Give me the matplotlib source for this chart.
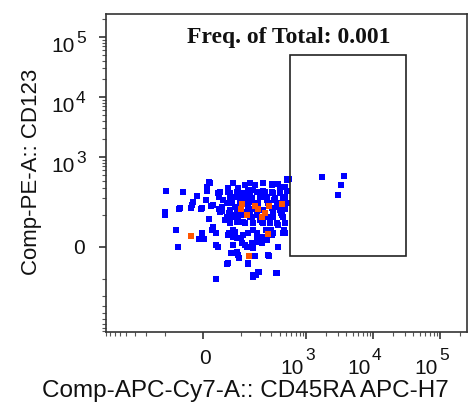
import matplotlib
matplotlib.use('Agg')
import matplotlib.pyplot as plt
import matplotlib.transforms as mtransforms
from matplotlib.patches import Rectangle
import numpy as np

# events (CD45RA APC-H7 vs CD123), fluorescence units
blue_x = [-95, -100, -100, -43, -54, -51, -62, -56, -20, -23, -25, -12, -8, 2, -2, -4, -2, 6,
          12, 14, 8, 8, 12, 16, 20, 20, 18, 27, 31, 27, 31, 34, 36, 34, 36, 27, 41, 41, 43, 48,
          53, 53, 65, 71, 56, 62, 59, 68, 59, 65, 62, 71, 59, 71, 77, 84, 84, 91, 88, 84, 77, 84,
          88, 112, 103, 107, 99, 116, 126, 112, 130, 126, 140, 130, 140, 151, 151, 157, 181, 188,
          157, 181, 151, 157, 181, 157, 175, 195, 209, 224, 202, 217, 224, 259, 250, 224, 277,
          308, 319, 330, 367, 297, 319, 319, 367, 354, 380, 407, 422, 451, 468, 484, 520, 520,
          556, 484, 451,
          88, 116, 140, 168, 224, 308, 380, 484, 520, 56, 84, 103, 130, 181, 241, 308, 407,
          62, 77, 107, 151, 202, 259, 342, 451, 53, 68, 95, 130, 188, 268, 367, 520,
          62, 84, 116, 157, 224, 308, 407, 484, 56, 77, 140, 181, 259, 319, 437,
          62, 84, 116, 157, 217, 287, 380, 484,
          56, 77, 107, 130, 181, 217, 308, 451, 71, 103, 188, 259, 68, 88, 168, 268, 56, 130,
          157, 188, 367,
          1730, 3690, 3330, 3000]
blue_y = [266, 113, 98, 256, 128, 134, 44, 0, 171, 151, 134, 219, 20, 20, 35, 128, 134, 185,
          379, 365, 312, 266, 82, 145, 151, 53, 44, 5, 0, -98, 246, 210, 256, 128, 113, 35, 118,
          139, 185, 78, 90, -44, -15, 365, 300, 246, 164, 185, 108, 98, 78, 44, 35, 25, 38, 22,
          -12, -27, 277, 210, 139, 108, 86, 185, 98, 70, 22, 5, 0, 246, -44, 210, 227, 139, 113,
          90, 171, 277, 108, 256, 44, 35, 10, -2, 22, -82, -82, -70, 210, 266, 78, 10, 17, 185,
          44, 67, -22, 352, 246, 185, 139, 44, 35, 108, 67, -74, 0, 312, 108, 90, 44, 35, 266,
          426, 426, 210, 139,
          300, 338, 365, 338, 365, 338, 352, 312, 410, 256, 256, 246, 277, 256, 256, 256, 246,
          202, 210, 202, 202, 210, 210, 202, 202, 164, 164, 164, 164, 164, 164, 164, 164,
          123, 134, 113, 128, 123, 134, 123, 128, 90, 90, 90, 98, 90, 90, 98,
          67, 70, 67, 67, 70, 67, 60, 67,
          30, 25, 30, 35, 30, 25, 30, 35, 5, 10, 12, 17, -15, -20, -22, -20, -41, -41,
          -90, -70, -74,
          460, 478, 338, 227]

orange_x = [-25, 103, 99, 126, 168, 188, 241, 217, 277, 268, 135, 437]
orange_y = [27, 158, 128, 98, 145, 128, 108, 90, 145, 33, -22, 158]

gate_x = [575, 31000]
gate_y = [-22, 50000]
freq_text = 'Freq. of Total: 0.001'
x_label = 'Comp-APC-Cy7-A:: CD45RA APC-H7'
y_label = 'Comp-PE-A:: CD123'
major_ticks = [0, 1e3, 1e4, 1e5]
exponents = ['', '3', '4', '5']

CX = 58.0  # width of the linear part of the biex axes
CY = 63.0


def fwd_x(v):
	return np.arcsinh(np.asarray(v) / CX)


def inv_x(u):
	return CX * np.sinh(np.asarray(u))


def fwd_y(v):
	return np.arcsinh(np.asarray(v) / CY)


def inv_y(u):
	return CY * np.sinh(np.asarray(u))


def minor_ticks():
	t = list(range(-800, 0, 100)) + list(range(100, 1000, 100))
	for dec in [1e3, 1e4]:
		t += [k * dec for k in range(2, 10)]
	t += [2e5]
	return t


def offset(fig, trans, dx, dy):
	return mtransforms.offset_copy(trans, fig=fig, x=dx, y=dy, units='dots')


def main():
	fig = plt.figure(figsize=(4.68, 4.03), dpi=100)
	ax = fig.add_axes([106 / 468, 71 / 403, 361 / 468, 318 / 403])
	ax.set_xscale('function', functions=(fwd_x, inv_x))
	ax.set_yscale('function', functions=(fwd_y, inv_y))
	ax.set_xlim(-812, 252000)
	ax.set_ylim(-821, 240700)

	ax.scatter(blue_x, blue_y, s=13, marker='s', color='#0000ff', linewidths=0, zorder=3)
	ax.scatter(orange_x, orange_y, s=13, marker='s', color='#ff5500', linewidths=0, zorder=4)

	gate = Rectangle((gate_x[0], gate_y[0]), gate_x[1] - gate_x[0], gate_y[1] - gate_y[0],
		fill=False, edgecolor='#222222', linewidth=1.2, zorder=5)
	ax.add_patch(gate)

	ax.text(0.505, 0.925, freq_text, transform=ax.transAxes, ha='center', va='center',
		fontsize=17, fontweight='bold', family='Liberation Serif', color='#111111')

	for s in ax.spines.values():
		s.set_color('#333333')
		s.set_linewidth(1.2)

	ax.set_xticks(major_ticks)
	ax.set_yticks(major_ticks)
	ax.set_xticks(minor_ticks(), minor=True)
	ax.set_yticks(minor_ticks(), minor=True)
	ax.tick_params(which='major', direction='out', length=5, width=1.2, color='#333333',
		labelbottom=False, labelleft=False)
	ax.tick_params(which='minor', direction='out', length=3, width=0.8, color='#555555')

	lab = dict(fontsize=15, family='Liberation Sans', color='#111111')
	sup = dict(fontsize=12.5, family='Liberation Sans', color='#111111')
	ty = ax.get_yaxis_transform()
	tx = ax.get_xaxis_transform()
	for val, e in zip(major_ticks, exponents):
		if e == '':
			ax.text(0, val, '0', transform=offset(fig, ty, -21, -2), ha='right', va='center', **lab)
			ax.text(val, 0, '0', transform=offset(fig, tx, 2, -17), ha='center', va='top', **lab)
		else:
			# "10" with the exponent tucked up against its right edge
			ax.text(0, val, '10', transform=offset(fig, ty, -31, 0), ha='right', va='top', **lab)
			ax.text(0, val, e, transform=offset(fig, ty, -30, 6), ha='left', va='top', **sup)
			ax.text(val, 0, '10', transform=offset(fig, tx, -2, -27), ha='right', va='top', **lab)
			ax.text(val, 0, e, transform=offset(fig, tx, -1, -16), ha='left', va='top', **sup)

	fig.text(245 / 468, 1 - 391 / 403, x_label, ha='center', va='center', fontsize=17.5,
		family='Liberation Sans', color='#111111')
	fig.text(32 / 468, 1 - 172 / 403, y_label, ha='center', va='center', rotation=90,
		fontsize=16, family='Liberation Sans', color='#111111')

	fig.savefig('out.png', dpi=100)
	plt.close(fig)


if __name__ == "__main__":
	main()
